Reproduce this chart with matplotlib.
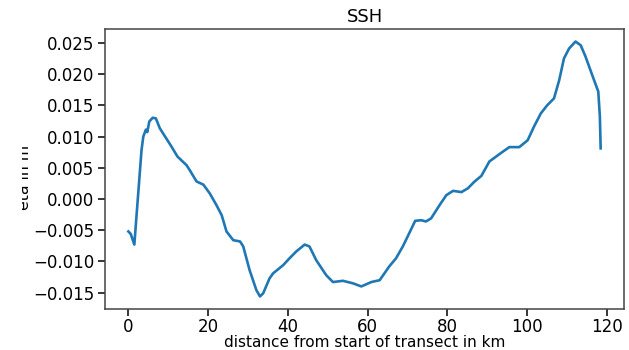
import matplotlib
matplotlib.use('Agg')
import matplotlib.pyplot as plt
from matplotlib.transforms import Bbox, TransformedBbox
import numpy as np

# distance along transect (km) and sea surface height (m)
dist_km = [0.0, 0.6, 1.5, 3.3, 3.75, 4.4, 4.75, 5.25, 6.1, 6.9, 7.9, 9.2,
           10.8, 12.3, 14.6, 15.4, 17.1, 18.8, 20.4, 22.1, 23.4, 24.6, 26.3,
           28.0, 28.8, 30.4, 32.1, 33.0, 33.8, 35.4, 36.3, 38.8, 40.4, 42.1,
           44.2, 45.4, 47.1, 49.6, 51.3, 53.8, 56.3, 58.4, 60.9, 63.0, 65.4,
           67.1, 68.8, 70.4, 71.9, 73.4, 74.6, 75.9, 78.0, 79.7, 81.4, 83.5,
           85.1, 86.8, 88.5, 90.5, 93.5, 95.5, 98.0, 100.1, 101.7, 103.4,
           105.0, 106.7, 108.0, 109.2, 110.5, 112.1, 113.4, 114.6, 116.3,
           117.8, 118.2, 118.4]
ssh = [-0.0052, -0.0056, -0.0073, 0.0078, 0.0100, 0.0111, 0.0107, 0.0124,
       0.0130, 0.0129, 0.0113, 0.0100, 0.0084, 0.0068, 0.0054, 0.0046,
       0.0028, 0.0023, 0.0009, -0.0010, -0.0026, -0.0052, -0.0066, -0.0068,
       -0.0076, -0.0114, -0.0146, -0.0156, -0.0151, -0.0127, -0.0119,
       -0.0106, -0.0095, -0.0084, -0.0073, -0.0076, -0.0098, -0.0122,
       -0.0133, -0.0131, -0.0135, -0.0140, -0.0133, -0.0130, -0.0108,
       -0.0095, -0.0076, -0.0055, -0.0035, -0.0034, -0.0036, -0.0031,
       -0.0010, 0.0006, 0.0013, 0.0011, 0.0017, 0.0028, 0.0037, 0.0060,
       0.0074, 0.0083, 0.0083, 0.0094, 0.0116, 0.0137, 0.0150, 0.0161,
       0.0190, 0.0225, 0.0241, 0.0252, 0.0246, 0.0228, 0.0198, 0.0172,
       0.0132, 0.0081]

fig = plt.figure(figsize=(6.29, 3.5), dpi=100)
ax = fig.add_axes([0.1665, 0.1163, 0.826, 0.8007])
ax.plot(dist_km, ssh, color='#1f77b4', linewidth=1.9)

ax.set_ylim(-0.01766, 0.0272)
ax.set_xticks([0, 20, 40, 60, 80, 100, 120])
ax.set_yticks(np.arange(-0.015, 0.0251, 0.005))
ax.tick_params(labelsize=12, length=4.7, width=1.1, pad=3)
ax.tick_params(axis='x', pad=1.5)
for s in ax.spines.values():
    s.set_linewidth(1.1)
    s.set_color('#444444')

ax.set_title('SSH', fontsize=13, pad=5)
ax.set_xlabel('distance from start of transect in km', fontsize=11, labelpad=-0.5)
ax.set_ylabel('eta in m', fontsize=11.3)
ax.yaxis.set_label_coords(-0.14, 0.47)

# the left part of the y label is cut off in the original
clip = TransformedBbox(Bbox([[22 / 629, 0], [1, 1]]), fig.transFigure)
ax.yaxis.label.set_clip_box(clip)
ax.yaxis.label.set_clip_on(True)

fig.savefig('out.png', dpi=100)
